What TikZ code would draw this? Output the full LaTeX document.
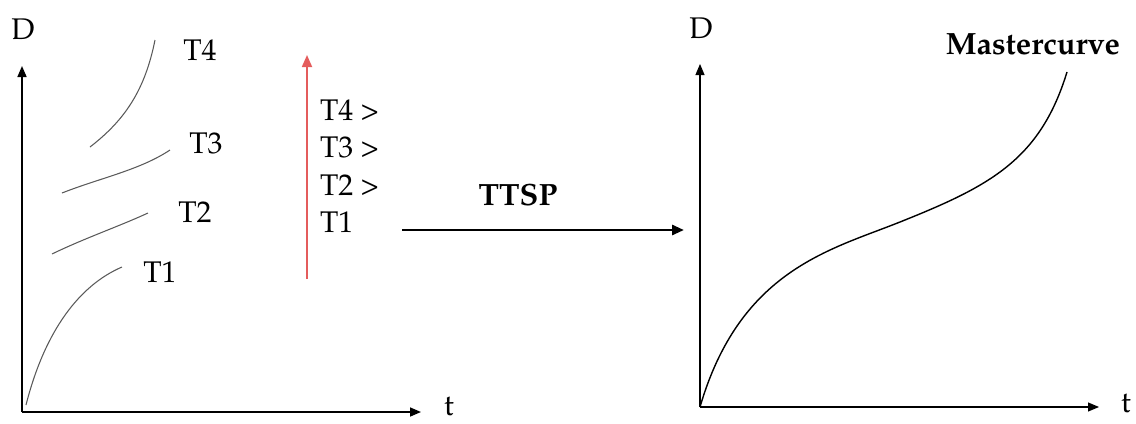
\documentclass[tikz,border=0pt]{standalone}
\usepackage[T1]{fontenc}
\usepackage{mathpazo}
\usetikzlibrary{positioning, arrows.meta}

\begin{document}
\begin{tikzpicture}[x=0.02cm, y=-0.02cm, font=\fontsize{17}{20}\selectfont,
  axis/.style={draw=black, line width=0.9pt, -{Triangle[length=2.2mm, width=1.8mm]}},
  isoline/.style={draw=black!65, line width=0.6pt},
  master/.style={draw=black, line width=0.8pt},
  lbl/.style={inner sep=1pt},
]
  \useasboundingbox (0,0) rectangle (1136,423);

  % left diagram: isotherms
  \coordinate (O1) at (22,412);
  \coordinate (Y1) at (22,66);
  \coordinate (X1) at (421,412);
  \draw[axis] (O1) -- (Y1);
  \draw[axis] (O1) -- (X1);
  \node[lbl] (D1) at (23,29) {D};
  \node[lbl] (t1) at (449,406) {t};

  \draw[isoline] (26,405) .. controls (45,330) and (80,285) .. (122,267);
  \draw[isoline] (52,254) .. controls (85,238) and (120,226) .. (148,213);
  \draw[isoline] (62,193) .. controls (100,178) and (140,170) .. (170,150);
  \draw[isoline] (90,147) .. controls (125,120) and (145,90) .. (155,40);
  \node[lbl] (T1) at (160,272) {T1};
  \node[lbl] (T2) at (195,212) {T2};
  \node[lbl] (T3) at (206,143) {T3};
  \node[lbl] (T4) at (200,50) {T4};

  % temperature order
  \coordinate (R0) at (307,279);
  \coordinate (R1) at (307,55);
  \draw[line width=1pt, draw={rgb,255:red,228;green,92;blue,92},
        -{Triangle[length=2.4mm, width=2mm]}] (R0) -- (R1);
  \foreach \xn/\xtxt in {0/{T4 \textgreater},1/{T3 \textgreater},2/{T2 \textgreater},3/{T1}} {
    \node[lbl, anchor=west] (ord\xn) at (318,110+\xn*37.5) {\xtxt};
  }

  % shift
  \node[font=\fontsize{17.5}{20}\selectfont\bfseries] (ttsp) at (518,195) {TTSP};
  \coordinate (S0) at (402,230);
  \coordinate (S1) at (684,230);
  \draw[line width=1.6pt, -{Triangle[length=2.4mm, width=2mm]}] (S0) -- (S1);

  % right diagram: mastercurve
  \coordinate (O2) at (700,407);
  \coordinate (Y2) at (700,64);
  \coordinate (X2) at (1099,407);
  \draw[axis, line width=0.6pt] (O2) -- (Y2);
  \draw[axis, line width=0.6pt] (O2) -- (X2);
  \node[lbl] (D2) at (701,28) {D};
  \node[lbl] (t2) at (1126,403) {t};
  \draw[master] (O2) .. controls (740,270) and (830,250) .. (900,222)
                     .. controls (990,186) and (1040,160) .. (1067,72);
  \node[lbl, font=\fontsize{17.5}{20}\selectfont\bfseries] (mc) at (1033,44) {Mastercurve};
\end{tikzpicture}
\end{document}
